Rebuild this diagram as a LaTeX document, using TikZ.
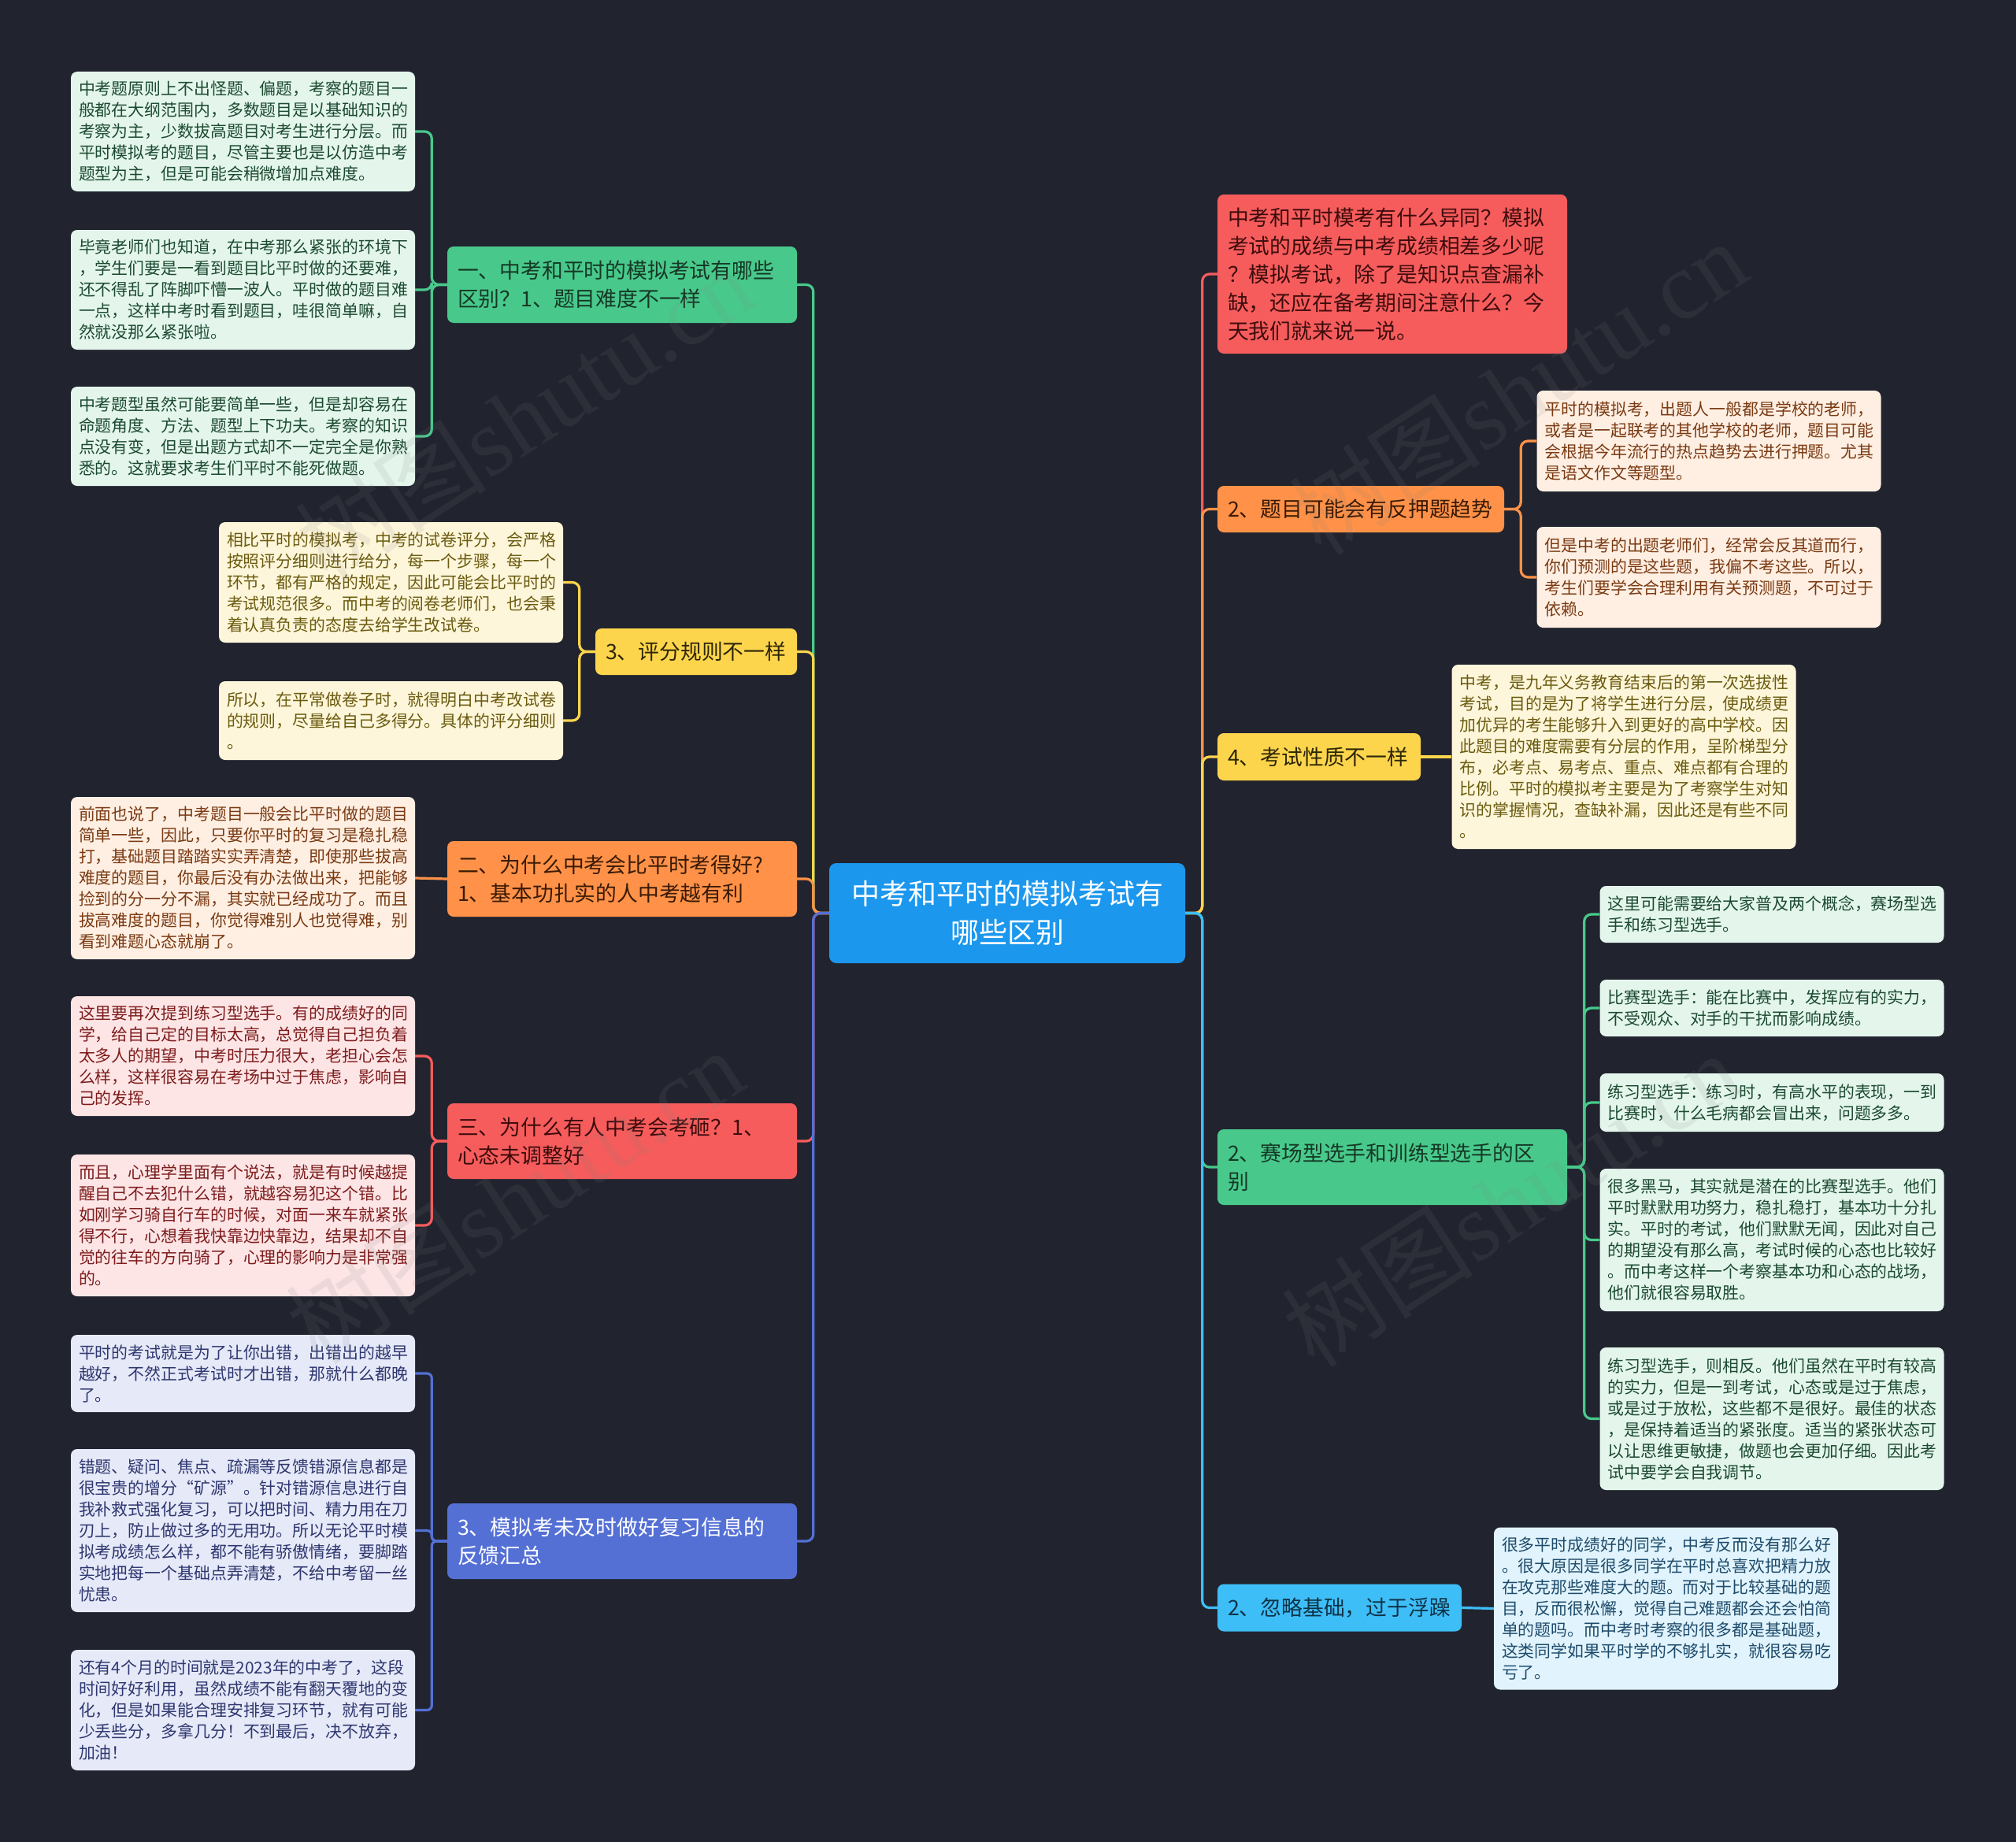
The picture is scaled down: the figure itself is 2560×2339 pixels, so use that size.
\documentclass[tikz,border=0pt]{standalone}
\usepackage{fontspec}
\setmainfont{Noto Sans CJK SC}
\newfontfamily\wmlatin{Liberation Serif}
\definecolor{bg}{HTML}{21242F}
\definecolor{cC}{HTML}{1C97EE}
\definecolor{mG}{HTML}{48C98B}\definecolor{lG}{HTML}{E4F6EC}\definecolor{tG}{HTML}{1C4A30}\definecolor{bG}{HTML}{163826}
\definecolor{mY}{HTML}{FDD54C}\definecolor{lY}{HTML}{FEF6DA}\definecolor{tY}{HTML}{6B5B10}\definecolor{bY}{HTML}{2E2608}
\definecolor{mO}{HTML}{FF9248}\definecolor{lO}{HTML}{FFEFE3}\definecolor{tO}{HTML}{7A3A12}\definecolor{bO}{HTML}{3A1A06}
\definecolor{mR}{HTML}{F65C5C}\definecolor{lR}{HTML}{FDE5E6}\definecolor{tR}{HTML}{7E1C1C}\definecolor{bR}{HTML}{3D0C0C}
\definecolor{mP}{HTML}{5470D5}\definecolor{lP}{HTML}{E6E9F7}\definecolor{tP}{HTML}{2E3770}
\definecolor{mC}{HTML}{3EBEF7}\definecolor{lC}{HTML}{E1F4FD}\definecolor{tC}{HTML}{1E4B6B}\definecolor{bC}{HTML}{0F3347}
\newcommand\lfnt{\fontsize{20.9}{27}\selectfont}
\newcommand\bfnt{\fontsize{26.8}{36}\selectfont}
\newcommand\cfnt{\fontsize{36}{49}\selectfont}
\tikzset{
  leaf/.style={rounded corners=8pt, inner xsep=10pt, inner ysep=0pt, text width=417pt, align=left, font=\lfnt},
  leafG/.style={leaf, fill=lG, text=tG},
  leafY/.style={leaf, fill=lY, text=tY},
  leafO/.style={leaf, fill=lO, text=tO},
  leafR/.style={leaf, fill=lR, text=tR},
  leafP/.style={leaf, fill=lP, text=tP},
  leafC/.style={leaf, fill=lC, text=tC},
  brn/.style={rounded corners=8pt, inner xsep=13pt, inner ysep=0pt, align=left, font=\bfnt},
  conn/.style={line width=3.2pt, rounded corners=9pt},
  wm/.style={font=\fontsize{122}{122}\selectfont, text=gray, text opacity=0.12, rotate=33}
}
\begin{document}
\begin{tikzpicture}[x=1pt,y=-1pt]
\fill[bg] (0,0) rectangle (2560,2339);
\useasboundingbox (0,0) rectangle (2560,2339);

% center
\node[rounded corners=9pt, fill=cC, text=white, font=\cfnt, align=center, text width=440pt, minimum width=452pt, minimum height=127pt, inner sep=0pt] (c) at (1279,1159.5) {中考和平时的模拟考试有\\哪些区别};

% left branches
\node[brn, fill=mG, text=bG, text width=418pt, minimum height=97pt] (b1) at (790,361.5) {一、中考和平时的模拟考试有哪些\\区别？1、题目难度不一样};
\node[brn, fill=mY, text=bY, text width=230pt, minimum height=59pt] (b2) at (884,827.5) {3、评分规则不一样};
\node[brn, fill=mO, text=bO, text width=418pt, minimum height=96pt] (b3) at (790,1116) {二、为什么中考会比平时考得好?\\1、基本功扎实的人中考越有利};
\node[brn, fill=mR, text=bR, text width=418pt, minimum height=96pt] (b4) at (790,1449) {三、为什么有人中考会考砸？1、\\心态未调整好};
\node[brn, fill=mP, text=white, text width=418pt, minimum height=96pt] (b5) at (790,1957) {3、模拟考未及时做好复习信息的\\反馈汇总};

% left leaves
\node[leafG, minimum height=152pt] (l1) at (308.5,167) {中考题原则上不出怪题、偏题，考察的题目一\\般都在大纲范围内，多数题目是以基础知识的\\考察为主，少数拔高题目对考生进行分层。而\\平时模拟考的题目，尽管主要也是以仿造中考\\题型为主，但是可能会稍微增加点难度。};
\node[leafG, minimum height=152pt] (l2) at (308.5,368) {毕竟老师们也知道，在中考那么紧张的环境下\\，学生们要是一看到题目比平时做的还要难，\\还不得乱了阵脚吓懵一波人。平时做的题目难\\一点，这样中考时看到题目，哇很简单嘛，自\\然就没那么紧张啦。};
\node[leafG, minimum height=126pt] (l3) at (308.5,554) {中考题型虽然可能要简单一些，但是却容易在\\命题角度、方法、题型上下功夫。考察的知识\\点没有变，但是出题方式却不一定完全是你熟\\悉的。这就要求考生们平时不能死做题。};
\node[leafY, minimum height=153pt] (l4) at (496.5,739.5) {相比平时的模拟考，中考的试卷评分，会严格\\按照评分细则进行给分，每一个步骤，每一个\\环节，都有严格的规定，因此可能会比平时的\\考试规范很多。而中考的阅卷老师们，也会秉\\着认真负责的态度去给学生改试卷。};
\node[leafY, minimum height=100pt] (l5) at (496.5,915) {所以，在平常做卷子时，就得明白中考改试卷\\的规则，尽量给自己多得分。具体的评分细则\\。};
\node[leafO, minimum height=206pt] (l6) at (308.5,1115) {前面也说了，中考题目一般会比平时做的题目\\简单一些，因此，只要你平时的复习是稳扎稳\\打，基础题目踏踏实实弄清楚，即使那些拔高\\难度的题目，你最后没有办法做出来，把能够\\捡到的分一分不漏，其实就已经成功了。而且\\拔高难度的题目，你觉得难别人也觉得难，别\\看到难题心态就崩了。};
\node[leafR, minimum height=152pt] (l7) at (308.5,1341) {这里要再次提到练习型选手。有的成绩好的同\\学，给自己定的目标太高，总觉得自己担负着\\太多人的期望，中考时压力很大，老担心会怎\\么样，这样很容易在考场中过于焦虑，影响自\\己的发挥。};
\node[leafR, minimum height=180pt] (l8) at (308.5,1556) {而且，心理学里面有个说法，就是有时候越提\\醒自己不去犯什么错，就越容易犯这个错。比\\如刚学习骑自行车的时候，对面一来车就紧张\\得不行，心想着我快靠边快靠边，结果却不自\\觉的往车的方向骑了，心理的影响力是非常强\\的。};
\node[leafP, minimum height=98pt] (l9) at (308.5,1744) {平时的考试就是为了让你出错，出错出的越早\\越好，不然正式考试时才出错，那就什么都晚\\了。};
\node[leafP, minimum height=207pt] (l10) at (308.5,1943.5) {错题、疑问、焦点、疏漏等反馈错源信息都是\\很宝贵的增分“矿源”。针对错源信息进行自\\我补救式强化复习，可以把时间、精力用在刀\\刃上，防止做过多的无用功。所以无论平时模\\拟考成绩怎么样，都不能有骄傲情绪，要脚踏\\实地把每一个基础点弄清楚，不给中考留一丝\\忧患。};
\node[leafP, minimum height=153pt] (l11) at (308.5,2171.5) {还有4个月的时间就是2023年的中考了，这段\\时间好好利用，虽然成绩不能有翻天覆地的变\\化，但是如果能合理安排复习环节，就有可能\\少丢些分，多拿几分！不到最后，决不放弃，\\加油！};

% right branches
\node[brn, fill=mR, text=bR, text width=418pt, minimum height=202pt] (r0) at (1768,348) {中考和平时模考有什么异同？模拟\\考试的成绩与中考成绩相差多少呢\\？模拟考试，除了是知识点查漏补\\缺，还应在备考期间注意什么？今\\天我们就来说一说。};
\node[brn, fill=mO, text=bO, text width=338pt, minimum height=59pt] (rb6) at (1728,646.5) {2、题目可能会有反押题趋势};
\node[brn, fill=mY, text=bY, text width=232pt, minimum height=60pt] (rb7) at (1675,961) {4、考试性质不一样};
\node[brn, fill=mG, text=bG, text width=418pt, minimum height=96pt] (rb8) at (1768,1482) {2、赛场型选手和训练型选手的区\\别};
\node[brn, fill=mC, text=bC, text width=284pt, minimum height=60pt] (rb9) at (1701,2041.5) {2、忽略基础，过于浮躁};

% right leaves
\node[leafO, minimum height=128pt] (r1) at (2170,560) {平时的模拟考，出题人一般都是学校的老师，\\或者是一起联考的其他学校的老师，题目可能\\会根据今年流行的热点趋势去进行押题。尤其\\是语文作文等题型。};
\node[leafO, minimum height=128pt] (r2) at (2170,733) {但是中考的出题老师们，经常会反其道而行，\\你们预测的是这些题，我偏不考这些。所以，\\考生们要学会合理利用有关预测题，不可过于\\依赖。};
\node[leafY, minimum height=234pt] (r3) at (2062,961) {中考，是九年义务教育结束后的第一次选拔性\\考试，目的是为了将学生进行分层，使成绩更\\加优异的考生能够升入到更好的高中学校。因\\此题目的难度需要有分层的作用，呈阶梯型分\\布，必考点、易考点、重点、难点都有合理的\\比例。平时的模拟考主要是为了考察学生对知\\识的掌握情况，查缺补漏，因此还是有些不同\\。};
\node[leafG, minimum height=72pt] (r4) at (2250,1161) {这里可能需要给大家普及两个概念，赛场型选\\手和练习型选手。};
\node[leafG, minimum height=72pt] (r5) at (2250,1280) {比赛型选手：能在比赛中，发挥应有的实力，\\不受观众、对手的干扰而影响成绩。};
\node[leafG, minimum height=74pt] (r6) at (2250,1400) {练习型选手：练习时，有高水平的表现，一到\\比赛时，什么毛病都会冒出来，问题多多。};
\node[leafG, minimum height=181pt] (r7) at (2250,1574.5) {很多黑马，其实就是潜在的比赛型选手。他们\\平时默默用功努力，稳扎稳打，基本功十分扎\\实。平时的考试，他们默默无闻，因此对自己\\的期望没有那么高，考试时候的心态也比较好\\。而中考这样一个考察基本功和心态的战场，\\他们就很容易取胜。};
\node[leafG, minimum height=181pt] (r8) at (2250,1801.5) {练习型选手，则相反。他们虽然在平时有较高\\的实力，但是一到考试，心态或是过于焦虑，\\或是过于放松，这些都不是很好。最佳的状态\\，是保持着适当的紧张度。适当的紧张状态可\\以让思维更敏捷，做题也会更加仔细。因此考\\试中要学会自我调节。};
\node[leafC, minimum height=206pt] (r9) at (2115.5,2042.5) {很多平时成绩好的同学，中考反而没有那么好\\。很大原因是很多同学在平时总喜欢把精力放\\在攻克那些难度大的题。而对于比较基础的题\\目，反而很松懈，觉得自己难题都会还会怕简\\单的题吗。而中考时考察的很多都是基础题，\\这类同学如果平时学的不够扎实，就很容易吃\\亏了。};

% connectors: center -> left branches
\draw[conn, mG] (c.west) -- ([xshift=-20pt]c.west) |- (b1.east);
\draw[conn, mY] (c.west) -- ([xshift=-20pt]c.west) |- (b2.east);
\draw[conn, mO] (c.west) -- ([xshift=-20pt]c.west) |- (b3.east);
\draw[conn, mR] (c.west) -- ([xshift=-20pt]c.west) |- (b4.east);
\draw[conn, mP] (c.west) -- ([xshift=-20pt]c.west) |- (b5.east);
% center -> right branches
\draw[conn, mR] (c.east) -- ([xshift=21.5pt]c.east) |- (r0.west);
\draw[conn, mO] (c.east) -- ([xshift=21.5pt]c.east) |- (rb6.west);
\draw[conn, mY] (c.east) -- ([xshift=21.5pt]c.east) |- (rb7.west);
\draw[conn, mG] (c.east) -- ([xshift=21.5pt]c.east) |- (rb8.west);
\draw[conn, mC] (c.east) -- ([xshift=21.5pt]c.east) |- (rb9.west);

% left sub connectors
\foreach \l in {l1,l2,l3} \draw[conn, mG] (b1.west) -- ([xshift=-19.5pt]b1.west) |- (\l.east);
\foreach \l in {l4,l5} \draw[conn, mY] (b2.west) -- ([xshift=-20pt]b2.west) |- (\l.east);
\draw[conn, mO] (b3.west) -- (l6.east);
\foreach \l in {l7,l8} \draw[conn, mR] (b4.west) -- ([xshift=-19.5pt]b4.west) |- (\l.east);
\foreach \l in {l9,l10,l11} \draw[conn, mP, rounded corners=6pt] (b5.west) -- ([xshift=-19.5pt]b5.west) |- (\l.east);

% right sub connectors
\foreach \r in {r1,r2} \draw[conn, mO] (rb6.east) -- ([xshift=21pt]rb6.east) |- (\r.west);
\draw[conn, mY] (rb7.east) -- (r3.west);
\foreach \r in {r4,r5,r6,r7,r8} \draw[conn, mG] (rb8.east) -- ([xshift=21.5pt]rb8.east) |- (\r.west);
\draw[conn, mC] (rb9.east) -- (r9.west);

% watermarks
\node[wm] (wm1) at (665,525) {树图{\wmlatin shutu.cn}};
\node[wm] (wm2) at (653,1518) {树图{\wmlatin shutu.cn}};
\node[wm] (wm3) at (1927,492) {树图{\wmlatin shutu.cn}};
\node[wm] (wm4) at (1918,1522) {树图{\wmlatin shutu.cn}};
\end{tikzpicture}
\end{document}
